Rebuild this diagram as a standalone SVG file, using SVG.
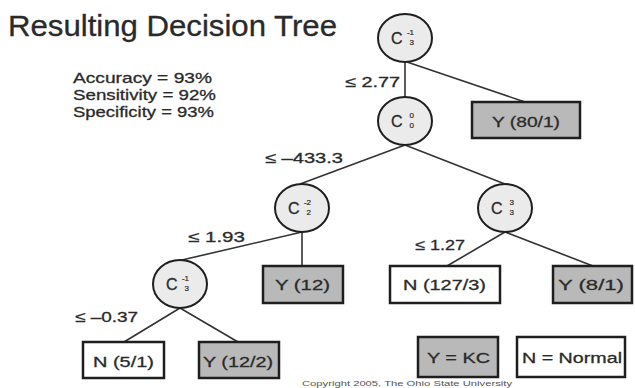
<svg xmlns="http://www.w3.org/2000/svg" width="635" height="388" viewBox="0 0 635 388">
<style>
text{font-family:"Liberation Sans",Arial,sans-serif;fill:#2a2a2a;stroke:#2a2a2a;stroke-width:0.3}
.edge{stroke:#333;stroke-width:1.6;fill:none}
.node{fill:#ebebeb;stroke:#1e1e1e;stroke-width:2}
.y{fill:#b9b9b9;stroke:#1e1e1e;stroke-width:2.5}
.n{fill:#fff;stroke:#1e1e1e;stroke-width:2.5}
.lbl{font-size:15px}
.c{font-size:16px}
.s{font-size:8px;text-anchor:end;stroke-width:0.2}
.bt{font-size:15.5px}
</style>
<rect width="635" height="388" fill="#fff"/>
<text x="8" y="36" font-size="29" textLength="329" lengthAdjust="spacingAndGlyphs">Resulting Decision Tree</text>
<text x="73" y="83" class="lbl" textLength="139" lengthAdjust="spacingAndGlyphs">Accuracy = 93%</text>
<text x="73" y="100" class="lbl" textLength="143" lengthAdjust="spacingAndGlyphs">Sensitivity = 92%</text>
<text x="73" y="117" class="lbl" textLength="141" lengthAdjust="spacingAndGlyphs">Specificity = 93%</text>
<g id="connectors">
<line class="edge" x1="405" y1="62" x2="405" y2="97"/>
<line class="edge" x1="407" y1="62" x2="525" y2="102"/>
<line class="edge" x1="405" y1="145" x2="300" y2="184"/>
<line class="edge" x1="405" y1="145" x2="505" y2="184"/>
<line class="edge" x1="302" y1="232" x2="182" y2="260"/>
<line class="edge" x1="302" y1="232" x2="302" y2="266"/>
<line class="edge" x1="505" y1="232" x2="447" y2="266"/>
<line class="edge" x1="505" y1="232" x2="593" y2="266"/>
<line class="edge" x1="180" y1="308" x2="124" y2="342"/>
<line class="edge" x1="180" y1="308" x2="238" y2="342"/>
<text x="345" y="87" class="lbl" textLength="55" lengthAdjust="spacingAndGlyphs">≤ 2.77</text>
<text x="265" y="163" class="lbl" textLength="78" lengthAdjust="spacingAndGlyphs">≤ –433.3</text>
<text x="188" y="242" class="lbl" textLength="57" lengthAdjust="spacingAndGlyphs">≤ 1.93</text>
<text x="415" y="250" class="lbl" textLength="50" lengthAdjust="spacingAndGlyphs">≤ 1.27</text>
<text x="75" y="322" class="lbl" textLength="63" lengthAdjust="spacingAndGlyphs">≤ –0.37</text>
</g>
<g id="n-root">
<ellipse class="node" cx="405" cy="38" rx="27" ry="24"/>
<text x="391" y="44" class="c">C</text>
<text x="414" y="35" class="s">-1</text>
<text x="414" y="45" class="s">3</text>
</g>
<g id="n-c0">
<ellipse class="node" cx="405" cy="121" rx="27" ry="24"/>
<text x="391" y="127" class="c">C</text>
<text x="414" y="118" class="s">0</text>
<text x="414" y="128" class="s">0</text>
</g>
<g id="n-c2">
<ellipse class="node" cx="302" cy="208" rx="27" ry="24"/>
<text x="288" y="214" class="c">C</text>
<text x="311" y="205" class="s">-2</text>
<text x="311" y="215" class="s">2</text>
</g>
<g id="n-c3">
<ellipse class="node" cx="505" cy="208" rx="27" ry="24"/>
<text x="491" y="214" class="c">C</text>
<text x="514" y="205" class="s">3</text>
<text x="514" y="215" class="s">3</text>
</g>
<g id="n-c1">
<ellipse class="node" cx="180" cy="284" rx="27" ry="24"/>
<text x="166" y="290" class="c">C</text>
<text x="189" y="281" class="s">-1</text>
<text x="189" y="291" class="s">3</text>
</g>
<g id="leaf-y80">
<rect class="y" x="472" y="102" width="108" height="36"/>
<text x="492" y="127" class="bt" textLength="68" lengthAdjust="spacingAndGlyphs">Y (80/1)</text>
</g>
<g id="leaf-y12">
<rect class="y" x="263" y="266" width="80" height="37"/>
<text x="275" y="290" class="bt" textLength="55" lengthAdjust="spacingAndGlyphs">Y (12)</text>
</g>
<g id="leaf-n127">
<rect class="n" x="390" y="266" width="110" height="37"/>
<text x="403" y="290" class="bt" textLength="83" lengthAdjust="spacingAndGlyphs">N (127/3)</text>
</g>
<g id="leaf-y8">
<rect class="y" x="553" y="266" width="79" height="37"/>
<text x="558" y="290" class="bt" textLength="66" lengthAdjust="spacingAndGlyphs">Y (8/1)</text>
</g>
<g id="leaf-n5">
<rect class="n" x="83" y="342" width="81" height="36"/>
<text x="93" y="367" class="bt" textLength="61" lengthAdjust="spacingAndGlyphs">N (5/1)</text>
</g>
<g id="leaf-y12-2">
<rect class="y" x="199" y="342" width="80" height="36"/>
<text x="203" y="367" class="bt" textLength="70" lengthAdjust="spacingAndGlyphs">Y (12/2)</text>
</g>
<g id="legend-y">
<rect class="y" x="418" y="337" width="80" height="40"/>
<text x="427" y="363" class="bt" textLength="63" lengthAdjust="spacingAndGlyphs">Y = KC</text>
</g>
<g id="legend-n">
<rect class="n" x="517" y="337" width="108" height="40"/>
<text x="522" y="363" class="bt" textLength="100" lengthAdjust="spacingAndGlyphs">N = Normal</text>
</g>
<text x="302" y="386" font-size="7" textLength="210" lengthAdjust="spacingAndGlyphs" style="fill:#555;stroke:none">Copyright 2005, The Ohio State University</text>
</svg>
